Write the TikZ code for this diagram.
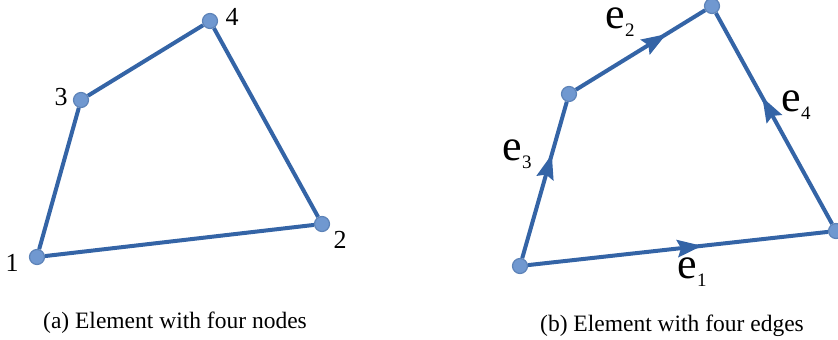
\documentclass[tikz,border=0pt]{standalone}
\usepackage{fontspec}
\setmainfont{Liberation Serif}
\usetikzlibrary{decorations.markings}
\definecolor{edgeblue}{RGB}{52,100,166}
\definecolor{dotblue}{RGB}{112,152,208}
\tikzset{
  vertex/.style={
    circle,
    draw=edgeblue!80,
    fill=dotblue,
    line width=1.2pt,
    minimum size=15pt,
    inner sep=0pt
  },
  side/.style={draw=edgeblue, line width=4pt},
  numlbl/.style={font=\fontsize{26}{26}\selectfont, inner sep=0pt},
  edgelbl/.style={font=\fontsize{44}{44}\selectfont, inner sep=0pt, anchor=base, text height=21pt},
  caption/.style={font=\fontsize{23.5}{24}\selectfont, inner sep=0pt},
  midarrow/.style={
    postaction={decorate},
    decoration={markings,
      mark=at position #1 with {\fill[edgeblue] (12pt,0) -- (-13pt,9pt) -- (-9pt,0) -- (-13pt,-9pt) -- cycle;}}
  }
}
\newcommand{\edgename}[1]{e\raisebox{-8pt}{\fontsize{19}{19}\selectfont #1}}

\begin{document}
\begin{tikzpicture}[x=1pt, y=1pt]
  \useasboundingbox (0,0) rectangle (838,340);
  % (a) four nodes
  \node[vertex] (n1) at (37,83) {};
  \node[vertex] (n2) at (322,116) {};
  \node[vertex] (n3) at (81,240) {};
  \node[vertex] (n4) at (210,319) {};
  \draw[side] (n1) -- (n2);
  \draw[side] (n2) -- (n4);
  \draw[side] (n4) -- (n3);
  \draw[side] (n3) -- (n1);
  \node[numlbl] (t1) at (12,77) {1};
  \node[numlbl] (t2) at (340,100) {2};
  \node[numlbl] (t3) at (61,243) {3};
  \node[numlbl] (t4) at (232,323) {4};
  \node[caption] (capa) at (175,17) {(a) Element with four nodes};
  % (b) four edges
  \node[vertex] (m1) at (520,74) {};
  \node[vertex] (m2) at (836,109) {};
  \node[vertex] (m3) at (569,246) {};
  \node[vertex] (m4) at (712,334) {};
  \draw[side, midarrow=0.54] (m1) -- (m2);
  \draw[side, midarrow=0.62] (m3) -- (m4);
  \draw[side, midarrow=0.59] (m1) -- (m3);
  \draw[side, midarrow=0.55] (m2) -- (m4);
  \node[edgelbl] (e1) at (692,61) {\edgename{1}};
  \node[edgelbl] (e2) at (620,311) {\edgename{2}};
  \node[edgelbl] (e3) at (517,179) {\edgename{3}};
  \node[edgelbl] (e4) at (796,228) {\edgename{4}};
  \node[caption] (capb) at (672,14) {(b) Element with four edges};
\end{tikzpicture}
\end{document}
